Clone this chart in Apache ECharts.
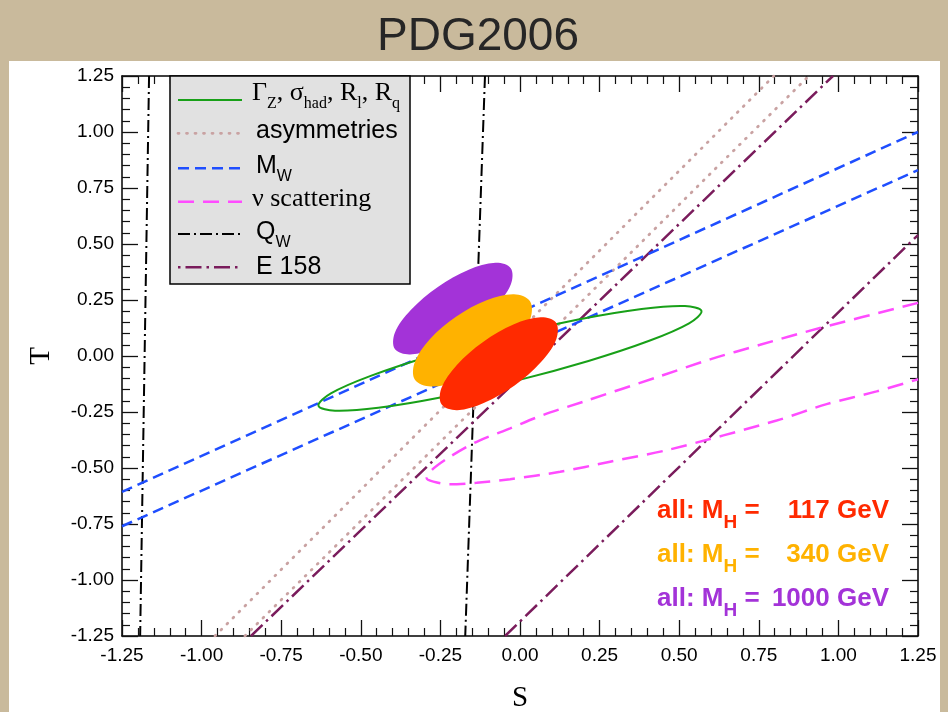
<!DOCTYPE html>
<html>
<head>
<meta charset="utf-8">
<script src="https://cdn.jsdelivr.net/npm/echarts@6/dist/echarts.min.js"></script>
<style>
html,body{margin:0;padding:0;background:#c9ba9c;}
#chart{width:948px;height:712px;}
</style>
</head>
<body>
<div id="chart"></div>
<script>
// ---- axes ----
const sRange = [-1.25, 1.25];
const tRange = [-1.25, 1.25];
const tickStep = 0.25;

// ---- straight bands (S, T) ----
const qwLeft = [[-1.165, 1.25], [-1.193, -1.25]];
const qwRight = [[-0.110, 1.25], [-0.172, -1.25]];
const e158Left = [[-0.845, -1.25], [0.983, 1.25]];
const e158Right = [[-0.047, -1.25], [1.25, 0.54]];
const asymLeft = [[-0.958, -1.25], [0.797, 1.25]];
const asymRight = [[-0.864, -1.25], [0.907, 1.25]];
const mwUpper = [[-1.25, -0.607], [1.25, 1.0]];
const mwLower = [[-1.25, -0.76], [1.25, 0.83]];

// ---- nu scattering contour (open, leaves the frame on the right) ----
const nuScattering = [
  [1.25, 0.237], [0.942, 0.125], [0.754, 0.050], [0.597, -0.015], [0.440, -0.090],
  [0.199, -0.204], [0.073, -0.263], [-0.031, -0.323], [-0.136, -0.383], [-0.220, -0.450],
  [-0.277, -0.509], [-0.293, -0.546], [-0.272, -0.561], [-0.220, -0.573], [-0.136, -0.566],
  [-0.031, -0.550], [0.126, -0.517], [0.283, -0.472], [0.471, -0.417], [0.806, -0.288],
  [0.963, -0.215], [1.120, -0.158], [1.25, -0.104]
];

// ---- Z-pole contour (Gamma_Z, sigma_had, R_l, R_q) ----
const zPole = [
  [0.570, 0.201], [0.531, 0.146], [0.406, 0.068], [0.215, -0.022], [-0.014, -0.111],
  [-0.246, -0.184], [-0.445, -0.231], [-0.581, -0.244], [-0.633, -0.222], [-0.594, -0.167],
  [-0.469, -0.089], [-0.278, 0.001], [-0.049, 0.090], [0.183, 0.163], [0.382, 0.210], [0.518, 0.223]
];

// ---- global fits ----
const all1000 = [
  [-0.029, 0.392], [-0.029, 0.319], [-0.079, 0.218], [-0.164, 0.115], [-0.261, 0.038], [-0.345, 0.007],
  [-0.393, 0.031], [-0.393, 0.104], [-0.343, 0.205], [-0.258, 0.308], [-0.161, 0.385], [-0.077, 0.416]
];
const all340 = [
  [0.031, 0.246], [0.033, 0.170], [-0.015, 0.066], [-0.098, -0.036], [-0.195, -0.110], [-0.280, -0.136],
  [-0.330, -0.106], [-0.331, -0.030], [-0.284, 0.074], [-0.200, 0.176], [-0.103, 0.250], [-0.019, 0.276]
];
const all117 = [
  [0.113, 0.149], [0.114, 0.075], [0.066, -0.027], [-0.017, -0.132], [-0.114, -0.210], [-0.197, -0.242],
  [-0.246, -0.217], [-0.247, -0.144], [-0.199, -0.041], [-0.116, 0.063], [-0.019, 0.142], [0.065, 0.173]
];

// ---- text ----
const titleText = 'PDG2006';
const legendLabels = [
  '{n|Γ}{s|Z}{n|, σ}{s|had}{n|, R}{s|l}{n|, R}{s|q}',
  'asymmetries',
  '{n|M}{s|W}',
  'ν scattering',
  '{n|Q}{s|W}',
  'E 158'
];
const fitLabelsLeft = ['{n|all: M}{s|H}{n| =}', '{n|all: M}{s|H}{n| =}', '{n|all: M}{s|H}{n| =}'];
const fitLabelsRight = ['117 GeV', '340 GeV', '1000 GeV'];

// ---- styles ----
const C = {
  green: '#18a018', asym: '#c9a2a2', mw: '#1f4eff', nu: '#ff4cff', qw: '#000000', e158: '#7a1c5c',
  c1000: '#a333d8', c340: '#ffb200', c117: '#ff2a00'
};
const SANS = '"Liberation Sans", Arial, Helvetica, sans-serif';
const SERIF = '"Liberation Serif", "Times New Roman", serif';

function lineSeries(name, data, color, width, dash, cap, smooth) {
  return {
    type: 'line', name, data, symbol: 'none', showSymbol: false, silent: true,
    smooth: smooth || false, clip: true, animation: false, z: 2,
    lineStyle: { color, width, type: dash, cap: cap || 'butt' }
  };
}
function contourSeries(name, pts, fill, stroke, z) {
  return {
    type: 'custom', name, data: pts, encode: { x: 0, y: 1 }, clip: true, silent: true,
    animation: false, z: z,
    renderItem(params, api) {
      if (params.dataIndex !== 0) return null;
      const px = pts.map(p => api.coord(p));
      return {
        type: 'polygon',
        shape: { points: px, smooth: 0.35 },
        style: fill ? { fill: fill, stroke: null } : { fill: null, stroke: stroke, lineWidth: 2 }
      };
    }
  };
}

const axisBase = {
  type: 'value', min: sRange[0], max: sRange[1], interval: tickStep,
  axisLine: { show: true, onZero: false, lineStyle: { color: '#000', width: 1.5 } },
  axisTick: { show: true, inside: true, length: 16, lineStyle: { color: '#111', width: 1.3 } },
  minorTick: { show: true, splitNumber: 5, length: 8, lineStyle: { color: '#111', width: 1.2 } },
  splitLine: { show: false }, minorSplitLine: { show: false }
};
const fmt = v => (Math.abs(v) < 1e-9 ? 0 : v).toFixed(2);
const labelStyle = { show: true, color: '#000', fontSize: 19, fontFamily: SANS, formatter: fmt };

// ---- legend graphic ----
const LX = 170, LY = 76, LW = 240, LH = 208;
const rowY = [100, 133.3, 168.3, 201.7, 234, 267.3];
const textY = [93.3, 131, 166, 199, 232, 267];
const legendStyles = [
  { color: C.green, width: 2.2, dash: null, serif: true },
  { color: C.asym, width: 2.8, dash: [1, 7.5], cap: 'round' },
  { color: C.mw, width: 2.5, dash: [11, 6] },
  { color: C.nu, width: 2.5, dash: [16, 9], serif: true },
  { color: C.qw, width: 2, dash: [12, 4, 2, 4] },
  { color: C.e158, width: 2.5, dash: [2.5, 5, 16, 5] }
];
const graphics = [
  { type: 'rect', z: -10, shape: { x: 9, y: 61, width: 931, height: 651 }, style: { fill: '#ffffff' } },
  { type: 'text', z: 50, style: { x: 478, y: 37, text: titleText, align: 'center', verticalAlign: 'middle',
      fill: '#262626', fontSize: 46, fontFamily: SANS } },
  { type: 'rect', z: 40, shape: { x: LX, y: LY, width: LW, height: LH },
    style: { fill: '#e1e1e1', stroke: '#000', lineWidth: 1.5 } }
];
legendLabels.forEach((lab, i) => {
  const st = legendStyles[i];
  graphics.push({ type: 'line', z: 41, shape: { x1: 178, y1: rowY[i], x2: 242, y2: rowY[i] },
    style: { stroke: st.color, lineWidth: st.width, lineDash: st.dash, lineCap: st.cap || 'butt' } });
  const fam = st.serif ? SERIF : SANS;
  const fs = st.serif ? 26 : 25;
  const hasSub = lab.indexOf('{s|') >= 0;
  const d = 10.5;
  graphics.push({ type: 'text', z: 42, style: {
    x: st.serif ? 252 : 256, y: hasSub ? textY[i] + d : textY[i], text: lab, align: 'left', verticalAlign: 'middle',
    fill: '#000', fontSize: fs, fontFamily: fam,
    rich: {
      n: { fontSize: fs, fontFamily: fam, fill: '#000', verticalAlign: 'top' },
      s: { fontSize: 16, fontFamily: fam, fill: '#000', lineHeight: fs + 2 * d }
    }
  } });
});
// ---- fit annotations ----
const fitColors = [C.c117, C.c340, C.c1000];
const fitY = [511, 555, 599];
fitLabelsLeft.forEach((lab, i) => {
  const d = 12, fs = 26;
  graphics.push({ type: 'text', z: 42, style: {
    x: 657, y: fitY[i] + d, text: lab, align: 'left', verticalAlign: 'middle',
    fill: fitColors[i], fontSize: fs, fontWeight: 'bold', fontFamily: SANS,
    rich: {
      n: { fontSize: fs, fontWeight: 'bold', fontFamily: SANS, fill: fitColors[i], verticalAlign: 'top' },
      s: { fontSize: 19, fontWeight: 'bold', fontFamily: SANS, fill: fitColors[i], lineHeight: fs + 2 * d }
    }
  } });
  graphics.push({ type: 'text', z: 42, style: {
    x: 889, y: fitY[i], text: fitLabelsRight[i], align: 'right', verticalAlign: 'middle',
    fill: fitColors[i], fontSize: fs, fontWeight: 'bold', fontFamily: SANS
  } });
});

const chart = echarts.init(document.getElementById('chart'), null, { renderer: 'canvas' });
chart.setOption({
  animation: false,
  backgroundColor: 'transparent',
  grid: { left: 122, right: 30, top: 76, bottom: 76, containLabel: false, outerBoundsMode: 'none' },
  xAxis: [
    Object.assign({}, axisBase, { position: 'bottom', axisLabel: Object.assign({ margin: 10 }, labelStyle),
      name: 'S', nameLocation: 'middle', nameGap: 48,
      nameTextStyle: { fontFamily: SERIF, fontSize: 29, color: '#000' } }),
    Object.assign({}, axisBase, { position: 'top', axisLabel: { show: false } })
  ],
  yAxis: [
    Object.assign({}, axisBase, { min: tRange[0], max: tRange[1], position: 'left',
      axisLabel: Object.assign({ margin: 8 }, labelStyle),
      name: 'T', nameLocation: 'middle', nameGap: 66,
      nameTextStyle: { fontFamily: SERIF, fontSize: 29, color: '#000' } }),
    Object.assign({}, axisBase, { min: tRange[0], max: tRange[1], position: 'right', axisLabel: { show: false } })
  ],
  graphic: { elements: graphics },
  series: [
    lineSeries('Q_W left', qwLeft, C.qw, 2, [12, 4, 2, 4]),
    lineSeries('Q_W right', qwRight, C.qw, 2, [12, 4, 2, 4]),
    lineSeries('asymmetries left', asymLeft, C.asym, 2.8, [1, 7.5], 'round'),
    lineSeries('asymmetries right', asymRight, C.asym, 2.8, [1, 7.5], 'round'),
    lineSeries('E 158 left', e158Left, C.e158, 2.5, [16, 5, 2.5, 5]),
    lineSeries('E 158 right', e158Right, C.e158, 2.5, [16, 5, 2.5, 5]),
    lineSeries('M_W upper', mwUpper, C.mw, 2.5, [11, 6]),
    lineSeries('M_W lower', mwLower, C.mw, 2.5, [11, 6]),
    lineSeries('nu scattering', nuScattering, C.nu, 2.5, [16, 9], 'butt', 0.3),
    contourSeries('Z pole', zPole, null, C.green, 3),
    contourSeries('all: MH = 1000 GeV', all1000, C.c1000, null, 4),
    contourSeries('all: MH = 340 GeV', all340, C.c340, null, 5),
    contourSeries('all: MH = 117 GeV', all117, C.c117, null, 6)
  ]
});
</script>
</body>
</html>
